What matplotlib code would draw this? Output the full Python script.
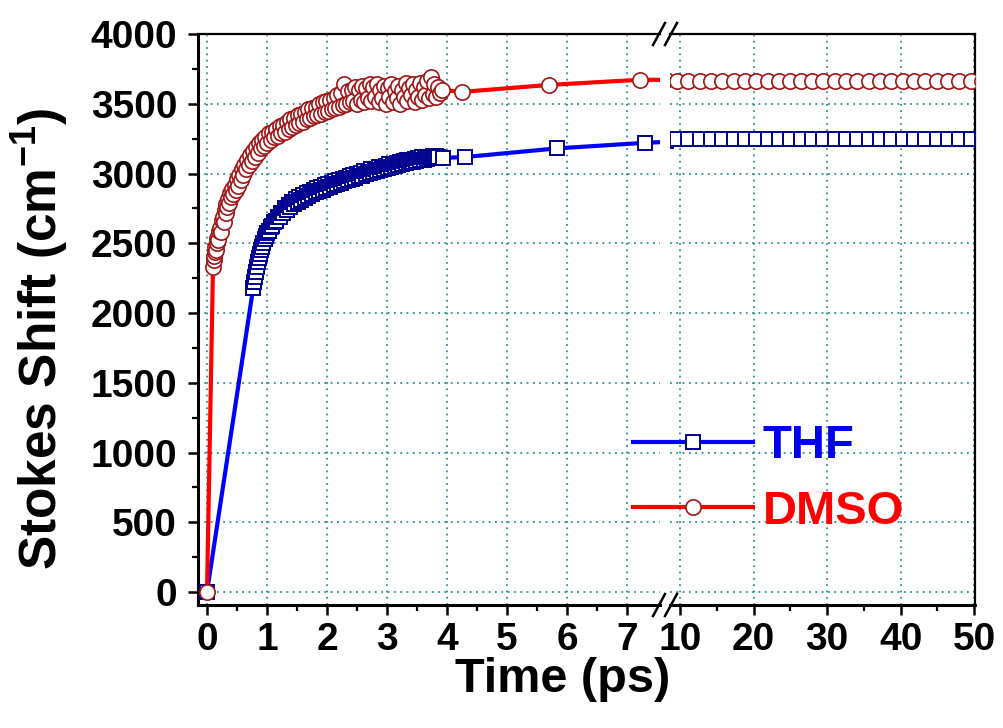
import numpy as np
import matplotlib.pyplot as plt
from matplotlib.lines import Line2D

plt.rcParams['font.family'] = ['Liberation Sans', 'DejaVu Sans']
plt.rcParams['font.weight'] = 'bold'
plt.rcParams['mathtext.fontset'] = 'custom'
plt.rcParams['mathtext.rm'] = 'Liberation Sans:bold'
plt.rcParams['mathtext.default'] = 'rm'

# THF (time in ps, Stokes shift in cm-1)
thf_t = [0.0, 0.77, 0.79, 0.80, 0.82, 0.83, 0.85, 0.86, 0.88, 0.90, 0.92, 0.94,
         0.96, 0.98, 1.00, 1.03, 1.06, 1.09, 1.12, 1.15, 1.18, 1.21, 1.24, 1.27,
         1.30, 1.33, 1.36, 1.39, 1.42, 1.45, 1.48, 1.51, 1.54, 1.57, 1.60, 1.63,
         1.66, 1.69, 1.72, 1.75, 1.78, 1.81, 1.84, 1.87, 1.90, 1.93, 1.96, 1.99,
         2.02, 2.05, 2.08, 2.11, 2.14, 2.17, 2.20, 2.23, 2.26, 2.29, 2.32, 2.35,
         2.38, 2.41, 2.44, 2.47, 2.50, 2.53, 2.56, 2.59, 2.62, 2.65, 2.68, 2.71,
         2.74, 2.77, 2.80, 2.83, 2.86, 2.89, 2.92, 2.95, 2.98, 3.01, 3.04, 3.07,
         3.10, 3.13, 3.16, 3.19, 3.22, 3.25, 3.28, 3.31, 3.34, 3.37, 3.40, 3.43,
         3.46, 3.49, 3.52, 3.55, 3.58, 3.61, 3.64, 3.67, 3.70, 3.73, 3.76, 3.79,
         3.82, 3.85, 3.93, 4.30, 5.83, 7.30, 8.10,
         9.6, 11.1, 12.7, 14.2, 15.7, 17.3, 18.8, 20.3, 21.9, 23.4, 24.9,
         26.5, 28.0, 29.5, 31.1, 32.6, 34.1, 35.7, 37.2, 38.7, 40.3, 41.8, 43.3,
         44.9, 46.4, 47.9, 49.5, 51.0]
thf_y = [0, 2180, 2225, 2260, 2295, 2330, 2365, 2395, 2420, 2450, 2475, 2500,
         2530, 2550, 2575, 2585, 2615, 2625, 2655, 2660, 2690, 2690, 2720, 2715,
         2750, 2740, 2775, 2760, 2795, 2780, 2815, 2795, 2830, 2810, 2845, 2825,
         2860, 2840, 2870, 2855, 2885, 2865, 2895, 2875, 2905, 2885, 2915, 2895,
         2925, 2905, 2935, 2915, 2945, 2925, 2955, 2935, 2960, 2945, 2970, 2950,
         2980, 2960, 2990, 2970, 2995, 2980, 3005, 2985, 3015, 2995, 3020, 3005,
         3030, 3010, 3035, 3020, 3045, 3025, 3050, 3035, 3055, 3040, 3065, 3045,
         3070, 3055, 3075, 3060, 3085, 3065, 3090, 3075, 3095, 3080, 3100, 3085,
         3105, 3090, 3110, 3095, 3115, 3100, 3120, 3105, 3120, 3110, 3125, 3110,
         3125, 3115, 3112, 3118, 3180, 3220, 3235,
         3245, 3247, 3247, 3247, 3247, 3247, 3247, 3247, 3247, 3247, 3247,
         3247, 3247, 3247, 3247, 3247, 3247, 3247, 3247, 3247, 3247, 3247, 3247,
         3247, 3247, 3247, 3247, 3247]

# DMSO
dmso_t = [0.0, 0.100, 0.110, 0.120, 0.130, 0.140, 0.150, 0.160, 0.175, 0.190,
          0.205, 0.220, 0.235, 0.250, 0.265, 0.280, 0.295, 0.310, 0.325, 0.340,
          0.355, 0.370, 0.385, 0.400, 0.420, 0.440, 0.460, 0.480, 0.500, 0.520,
          0.540, 0.560, 0.580, 0.600, 0.625, 0.650, 0.675, 0.700, 0.725, 0.750,
          0.775, 0.800, 0.825, 0.850, 0.875, 0.900, 0.925, 0.950, 0.975, 1.000,
          1.03, 1.06, 1.09, 1.12, 1.15, 1.18, 1.21, 1.24, 1.27, 1.30, 1.33, 1.36,
          1.39, 1.42, 1.45, 1.48, 1.51, 1.54, 1.57, 1.60, 1.63, 1.66, 1.69, 1.72,
          1.75, 1.78, 1.81, 1.84, 1.87, 1.90, 1.93, 1.96, 1.99, 2.02, 2.05, 2.08,
          2.11, 2.14, 2.17, 2.20, 2.23, 2.26, 2.29, 2.32, 2.35, 2.38, 2.41, 2.44,
          2.47, 2.50, 2.53, 2.56, 2.59, 2.62, 2.65, 2.68, 2.71, 2.74, 2.77, 2.80,
          2.83, 2.86, 2.89, 2.92, 2.95, 2.98, 3.01, 3.04, 3.07, 3.10, 3.13, 3.16,
          3.19, 3.22, 3.25, 3.28, 3.31, 3.34, 3.37, 3.40, 3.43, 3.46, 3.49, 3.52,
          3.55, 3.58, 3.61, 3.64, 3.67, 3.70, 3.73, 3.76, 3.79, 3.82, 3.85, 3.88,
          3.91, 4.25, 5.70, 7.22, 8.10,
          9.6, 11.1, 12.7, 14.2, 15.7, 17.3, 18.8, 20.3, 21.9, 23.4, 24.9,
          26.5, 28.0, 29.5, 31.1, 32.6, 34.1, 35.7, 37.2, 38.7, 40.3, 41.8, 43.3,
          44.9, 46.4, 47.9, 49.5, 51.0]
dmso_y = [0, 2330, 2380, 2410, 2440, 2470, 2455, 2500, 2540, 2520,
          2590, 2610, 2580, 2670, 2690, 2650, 2740, 2720, 2780, 2760,
          2820, 2790, 2860, 2830, 2890, 2850, 2920, 2880, 2960, 2910,
          2990, 2950, 3030, 2990, 3060, 3030, 3100, 3060, 3130, 3090,
          3160, 3120, 3190, 3150, 3220, 3180, 3240, 3200, 3260, 3220,
          3290, 3240, 3300, 3260, 3320, 3270, 3340, 3290, 3350, 3300, 3370, 3320,
          3390, 3330, 3400, 3350, 3420, 3360, 3430, 3370, 3440, 3390, 3460, 3400,
          3470, 3410, 3480, 3420, 3500, 3430, 3510, 3440, 3520, 3450, 3530, 3460,
          3540, 3470, 3560, 3480, 3580, 3490, 3640, 3500, 3590, 3510, 3600, 3520,
          3620, 3500, 3600, 3530, 3630, 3510, 3610, 3540, 3640, 3520, 3620, 3550,
          3640, 3510, 3600, 3540, 3630, 3500, 3610, 3550, 3640, 3510, 3590, 3540,
          3630, 3500, 3600, 3550, 3650, 3520, 3610, 3560, 3640, 3510, 3600, 3550,
          3650, 3530, 3620, 3560, 3660, 3540, 3690, 3570, 3640, 3550, 3620, 3580,
          3600, 3585, 3635, 3672, 3670,
          3662, 3662, 3662, 3662, 3662, 3662, 3662, 3662, 3662, 3662, 3662,
          3662, 3662, 3662, 3662, 3662, 3662, 3662, 3662, 3662, 3662, 3662, 3662,
          3662, 3662, 3662, 3662, 3662]

W, H = 1004, 728
fig = plt.figure(figsize=(W / 100, H / 100), dpi=100)


def box(x0, x1, y0, y1):
    # pixel box -> figure fraction rect
    return [x0 / W, 1 - y1 / H, (x1 - x0) / W, (y1 - y0) / H]


ax1 = fig.add_axes(box(198, 660, 34, 605))
ax2 = fig.add_axes(box(670, 975, 34, 605), sharey=ax1)

grid_col = '#2f8f8f'
for ax in (ax1, ax2):
    ax.plot(thf_t, thf_y, color='#0000ff', lw=3, marker='s', ms=10.5,
            mfc='white', mec='#000090', mew=1.4, label='THF', zorder=3)
    ax.plot(dmso_t, dmso_y, color='#ff0000', lw=3, marker='o', ms=11,
            mfc='white', mec='#a01515', mew=1.2, label='DMSO', zorder=4)
    ax.grid(True, which='major', color=grid_col, ls=(0, (1, 2.5)), lw=1.3)
    ax.tick_params(which='major', direction='out', length=7, width=1.8,
                   labelsize=28, pad=5)
    ax.tick_params(which='minor', direction='out', length=4.5, width=1.6)
    ax.spines['top'].set_linewidth(1.6)
    ax.spines['bottom'].set_linewidth(2.2)
    ax.spines['left'].set_linewidth(2.2)
    ax.spines['right'].set_linewidth(1.6)

ax1.set_ylim(-93, 4000)
ax1.set_yticks(range(0, 4001, 500))
ax1.set_yticks(range(250, 4000, 500), minor=True)
ax1.set_xlim(-0.15, 7.55)
ax1.set_xticks(range(0, 8))
ax1.set_xticks([0.5, 1.5, 2.5, 3.5, 4.5, 5.5, 6.5], minor=True)
ax1.spines['right'].set_visible(False)
ax1.tick_params(axis='y', which='major', pad=8)

ax2.set_xlim(8.64, 50.1)
ax2.set_xticks([10, 20, 30, 40, 50])
ax2.set_xticks([15, 25, 35, 45], minor=True)
ax2.spines['left'].set_visible(False)
ax2.tick_params(axis='y', which='both', left=False, labelleft=False)

# break marks on the top and bottom frame
for yp in (34, 605):
    for xc in (659, 671):
        fig.add_artist(Line2D([(xc - 6) / W, (xc + 6) / W],
                              [1 - (yp + 11) / H, 1 - (yp - 11) / H],
                              color='black', lw=1.8))

fig.text(40 / W, 1 - 339 / H, 'Stokes Shift (cm$^{-1}$)', fontsize=37,
         rotation=90, ha='center', va='center')
fig.text(563 / W, 1 - 680 / H, 'Time (ps)', fontsize=35, ha='center',
         va='center')

leg = ax2.legend(loc='center left', bbox_to_anchor=(633 / W, 1 - 479 / H),
                 bbox_transform=fig.transFigure, frameon=False, fontsize=34,
                 handlelength=2.55, handletextpad=0.2, labelspacing=0.45,
                 borderpad=0, borderaxespad=0, numpoints=1)
for txt, c in zip(leg.get_texts(), ['#0000ee', '#ff0000']):
    txt.set_color(c)

fig.savefig('out.png', dpi=100)
